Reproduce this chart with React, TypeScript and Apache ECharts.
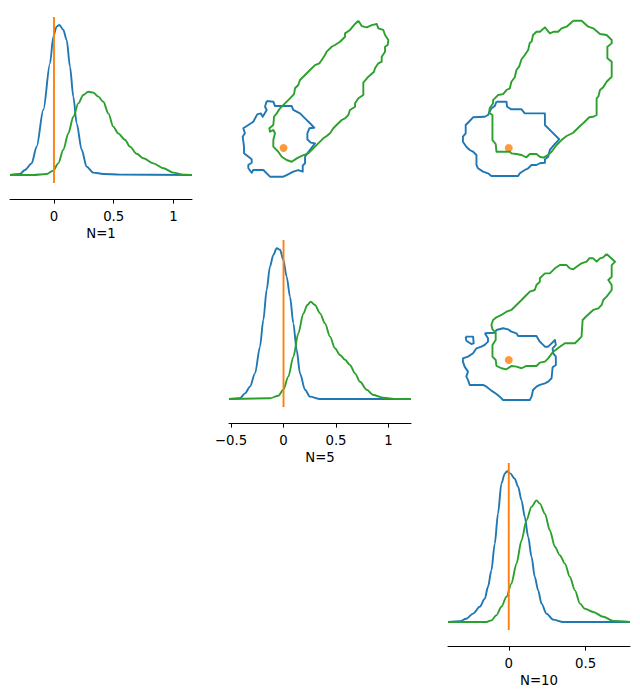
import React, { useEffect, useRef } from 'react';
import * as echarts from 'echarts';

const BLUE = '#1f77b4';
const ORANGE = '#ff7f0e';
const GREEN = '#2ca02c';
const FONT = 'DejaVu Sans';

// True parameter values (theta_0, theta_1, theta_2)
const trueTheta = [0, 0, 0];

// Axis limits per parameter
const limits0 = [-0.368, 1.155];
const limits1 = [-0.519, 1.214];
const limits2 = [-0.395, 0.788];

// Tick labels of the diagonal panels
const ticks0 = [0, 0.5, 1];
const ticks1 = [-0.5, 0, 0.5, 1];
const ticks2 = [0, 0.5];
const panelTitles = ['N=1', 'N=5', 'N=10'];

// 1D marginal densities [value, density]
const kdeBlue1 = [[-0.368, 0], [-0.285, 0.025], [-0.243, 0.125], [-0.187, 0.29], [-0.145, 0.71], [-0.089, 1.63], [-0.033, 2.79], [-0.006, 3.46], [0.022, 3.71], [0.045, 3.75], [0.078, 3.63], [0.106, 3.38], [0.134, 2.71], [0.162, 1.96], [0.19, 1.29], [0.232, 0.63], [0.273, 0.21], [0.329, 0.06], [0.413, 0.025], [0.552, 0.01], [1.155, 0]];
const kdeGreen1 = [[-0.368, 0], [-0.173, 0], [-0.061, 0.025], [-0.006, 0.11], [0.036, 0.29], [0.078, 0.63], [0.12, 1.04], [0.162, 1.46], [0.204, 1.79], [0.245, 2.0], [0.287, 2.08], [0.329, 2.06], [0.371, 1.96], [0.413, 1.83], [0.455, 1.54], [0.496, 1.21], [0.538, 1.04], [0.594, 0.88], [0.636, 0.71], [0.692, 0.53], [0.747, 0.42], [0.831, 0.29], [0.915, 0.17], [0.998, 0.06], [1.082, 0.01], [1.155, 0]];
const kdeBlue5 = [[-0.519, 0], [-0.414, 0.017], [-0.367, 0.14], [-0.319, 0.31], [-0.271, 0.64], [-0.224, 1.31], [-0.192, 1.98], [-0.16, 2.73], [-0.129, 3.31], [-0.097, 3.6], [-0.065, 3.77], [-0.033, 3.73], [-0.002, 3.48], [0.03, 3.06], [0.062, 2.56], [0.094, 1.89], [0.125, 1.23], [0.157, 0.64], [0.205, 0.23], [0.252, 0.06], [0.348, 0], [1.214, 0]];
const kdeGreen5 = [[-0.519, 0], [-0.129, 0.017], [-0.049, 0.083], [-0.002, 0.23], [0.046, 0.56], [0.094, 1.06], [0.141, 1.64], [0.189, 2.14], [0.227, 2.35], [0.259, 2.43], [0.3, 2.35], [0.348, 2.14], [0.395, 1.89], [0.443, 1.56], [0.49, 1.27], [0.538, 1.1], [0.586, 0.98], [0.633, 0.85], [0.681, 0.64], [0.729, 0.43], [0.792, 0.23], [0.855, 0.1], [0.95, 0.033], [1.078, 0], [1.214, 0]];
const kdeBlue10 = [[-0.395, 0], [-0.319, 0.017], [-0.276, 0.083], [-0.232, 0.21], [-0.189, 0.38], [-0.156, 0.58], [-0.135, 0.88], [-0.113, 1.29], [-0.091, 1.96], [-0.07, 2.71], [-0.048, 3.46], [-0.026, 3.71], [-0.011, 3.77], [0.011, 3.71], [0.039, 3.58], [0.061, 3.38], [0.083, 3.04], [0.104, 2.63], [0.126, 2.13], [0.148, 1.63], [0.169, 1.13], [0.191, 0.79], [0.213, 0.46], [0.245, 0.21], [0.289, 0.06], [0.354, 0], [0.788, 0]];
const kdeGreen10 = [[-0.395, 0], [-0.145, 0], [-0.113, 0.04], [-0.08, 0.17], [-0.048, 0.38], [-0.015, 0.63], [0.017, 0.96], [0.05, 1.46], [0.083, 2.04], [0.115, 2.54], [0.148, 2.88], [0.18, 3.04], [0.202, 2.96], [0.235, 2.71], [0.267, 2.29], [0.3, 1.88], [0.332, 1.67], [0.365, 1.46], [0.397, 1.13], [0.43, 0.79], [0.463, 0.46], [0.495, 0.33], [0.549, 0.25], [0.614, 0.13], [0.68, 0.025], [0.788, 0]];

// 2D credible-region contours [x, y]
const contourBlue01 = [[-0.16, 0.431], [-0.097, 0.425], [-0.081, 0.385], [0.078, 0.385], [0.093, 0.349], [0.157, 0.318], [0.205, 0.272], [0.252, 0.227], [0.293, 0.186], [0.246, 0.181], [0.227, 0.135], [0.227, 0.08], [0.259, 0.049], [0.3, 0.043], [0.227, -0.049], [0.205, -0.08], [0.205, -0.14], [0.183, -0.162], [0.183, -0.217], [0.141, -0.202], [0.093, -0.217], [0.03, -0.248], [-0.002, -0.263], [-0.129, -0.263], [-0.192, -0.202], [-0.288, -0.202], [-0.303, -0.227], [-0.335, -0.186], [-0.335, -0.156], [-0.303, -0.135], [-0.303, -0.104], [-0.376, -0.049], [-0.376, 0.012], [-0.389, 0.104], [-0.367, 0.135], [-0.383, 0.181], [-0.335, 0.211], [-0.288, 0.241], [-0.25, 0.309], [-0.217, 0.318], [-0.198, 0.287], [-0.16, 0.349], [-0.176, 0.379]];
const contourGreen01 = [[0.713, 1.168], [0.745, 1.119], [0.792, 1.107], [0.84, 1.128], [0.888, 1.138], [0.903, 1.098], [0.95, 1.083], [0.967, 1.037], [0.998, 0.991], [0.992, 0.945], [0.967, 0.929], [0.967, 0.884], [0.935, 0.838], [0.935, 0.792], [0.903, 0.777], [0.871, 0.731], [0.862, 0.7], [0.808, 0.654], [0.76, 0.599], [0.76, 0.486], [0.713, 0.456], [0.681, 0.41], [0.681, 0.379], [0.633, 0.349], [0.617, 0.303], [0.586, 0.272], [0.554, 0.257], [0.522, 0.227], [0.474, 0.181], [0.443, 0.135], [0.411, 0.11], [0.379, 0.089], [0.331, 0.043], [0.284, -0.003], [0.236, -0.049], [0.173, -0.073], [0.126, -0.095], [0.078, -0.126], [0.03, -0.11], [-0.017, -0.08], [-0.05, -0.034], [-0.097, 0.012], [-0.097, 0.073], [-0.081, 0.135], [-0.097, 0.165], [-0.129, 0.15], [-0.135, 0.181], [-0.097, 0.211], [-0.09, 0.287], [-0.065, 0.318], [-0.033, 0.364], [0.014, 0.41], [0.062, 0.456], [0.1, 0.495], [0.11, 0.548], [0.141, 0.578], [0.157, 0.624], [0.205, 0.67], [0.252, 0.716], [0.3, 0.761], [0.341, 0.777], [0.364, 0.807], [0.395, 0.853], [0.411, 0.884], [0.459, 0.929], [0.49, 0.945], [0.538, 0.975], [0.586, 1.021], [0.586, 1.052], [0.633, 1.083], [0.681, 1.138]];
const contourBlue02 = [[-0.08, 0.425], [-0.015, 0.425], [-0.011, 0.379], [0.017, 0.355], [0.083, 0.355], [0.104, 0.318], [0.235, 0.318], [0.235, 0.211], [0.278, 0.15], [0.328, 0.08], [0.3, 0.037], [0.267, -0.018], [0.256, -0.08], [0.235, -0.104], [0.235, -0.135], [0.202, -0.14], [0.18, -0.156], [0.148, -0.156], [0.126, -0.186], [0.104, -0.202], [0.072, -0.232], [0.061, -0.257], [-0.113, -0.257], [-0.135, -0.232], [-0.167, -0.217], [-0.2, -0.186], [-0.21, -0.156], [-0.21, -0.064], [-0.232, -0.034], [-0.254, -0.018], [-0.276, 0.012], [-0.298, 0.058], [-0.298, 0.104], [-0.28, 0.135], [-0.28, 0.211], [-0.259, 0.241], [-0.232, 0.282], [-0.156, 0.287], [-0.135, 0.303], [-0.113, 0.364], [-0.091, 0.385]];
const contourGreen02 = [[0.419, 1.168], [0.473, 1.168], [0.517, 1.113], [0.549, 1.098], [0.593, 1.046], [0.636, 1.037], [0.669, 0.991], [0.669, 0.96], [0.641, 0.929], [0.641, 0.823], [0.669, 0.792], [0.669, 0.654], [0.636, 0.608], [0.614, 0.557], [0.593, 0.532], [0.582, 0.471], [0.571, 0.456], [0.571, 0.303], [0.549, 0.287], [0.523, 0.282], [0.484, 0.227], [0.463, 0.202], [0.419, 0.14], [0.376, 0.11], [0.343, 0.073], [0.311, 0.028], [0.278, -0.034], [0.246, -0.073], [0.223, -0.089], [0.202, -0.08], [0.18, -0.055], [0.137, -0.055], [0.115, -0.085], [0.083, -0.064], [0.05, -0.055], [0.017, -0.049], [0.007, -0.034], [-0.08, -0.034], [-0.085, 0.037], [-0.106, 0.073], [-0.106, 0.303], [-0.128, 0.324], [-0.124, 0.364], [-0.102, 0.41], [-0.102, 0.44], [-0.07, 0.486], [-0.037, 0.495], [-0.015, 0.532], [0.007, 0.548], [0.017, 0.608], [0.039, 0.649], [0.05, 0.716], [0.067, 0.746], [0.083, 0.814], [0.104, 0.853], [0.126, 0.899], [0.137, 0.966], [0.148, 0.975], [0.158, 1.037], [0.18, 1.067], [0.202, 1.067], [0.235, 1.107], [0.267, 1.052], [0.293, 1.067], [0.321, 1.067], [0.343, 1.098], [0.376, 1.113]];
const contourBlue12 = [[-0.156, 0.277], [-0.091, 0.283], [-0.08, 0.311], [-0.037, 0.329], [-0.005, 0.318], [0.017, 0.294], [0.05, 0.277], [0.061, 0.249], [0.18, 0.249], [0.202, 0.19], [0.235, 0.138], [0.256, 0.138], [0.278, 0.173], [0.3, 0.207], [0.306, 0.156], [0.285, 0.121], [0.289, 0.069], [0.306, 0.035], [0.306, -0.052], [0.285, -0.076], [0.278, -0.19], [0.256, -0.225], [0.235, -0.242], [0.202, -0.259], [0.18, -0.277], [0.158, -0.311], [0.148, -0.381], [0.137, -0.415], [-0.037, -0.415], [-0.059, -0.381], [-0.08, -0.353], [-0.113, -0.318], [-0.145, -0.277], [-0.167, -0.259], [-0.254, -0.259], [-0.265, -0.207], [-0.276, -0.173], [-0.265, -0.121], [-0.287, -0.069], [-0.298, -0.017], [-0.298, 0.017], [-0.265, 0.035], [-0.232, 0.069], [-0.21, 0.121], [-0.178, 0.138], [-0.156, 0.156], [-0.135, 0.19], [-0.135, 0.225]];
const islandBlue12 = [[-0.28, 0.242], [-0.232, 0.242], [-0.228, 0.173], [-0.243, 0.166], [-0.276, 0.2]];
const contourGreen12 = [[0.636, 1.1], [0.691, 1.02], [0.669, 0.985], [0.669, 0.864], [0.647, 0.83], [0.669, 0.778], [0.669, 0.726], [0.636, 0.657], [0.614, 0.622], [0.604, 0.571], [0.582, 0.536], [0.549, 0.519], [0.506, 0.456], [0.48, 0.415], [0.473, 0.242], [0.452, 0.207], [0.43, 0.173], [0.365, 0.173], [0.332, 0.138], [0.289, 0.086], [0.256, 0.017], [0.235, -0.017], [0.202, -0.028], [0.18, -0.062], [0.115, -0.062], [0.083, -0.086], [0.05, -0.069], [0.017, -0.062], [-0.015, -0.097], [-0.048, -0.086], [-0.08, -0.062], [-0.085, 0], [-0.106, 0.035], [-0.106, 0.156], [-0.085, 0.207], [-0.085, 0.283], [-0.106, 0.318], [-0.113, 0.363], [-0.102, 0.415], [-0.08, 0.443], [-0.048, 0.467], [-0.015, 0.501], [0.017, 0.519], [0.05, 0.571], [0.083, 0.622], [0.115, 0.674], [0.137, 0.709], [0.169, 0.726], [0.18, 0.778], [0.202, 0.812], [0.202, 0.848], [0.235, 0.899], [0.267, 0.899], [0.3, 0.951], [0.332, 0.985], [0.376, 0.985], [0.397, 0.951], [0.419, 0.941], [0.441, 0.968], [0.473, 1.003], [0.506, 1.02], [0.523, 1.055], [0.549, 1.055], [0.571, 1.02], [0.593, 1.055], [0.614, 1.065]];

const LW = 1.9;
const closed = (pts: number[][]) => [...pts, pts[0]];
const fmtTick = (v: number) => (v < 0 ? '\u2212' + String(Math.abs(v)) : String(v));

export default function App() {
  const ref = useRef<HTMLDivElement>(null);

  useEffect(() => {
    const chart = echarts.init(ref.current!, null, { renderer: 'svg' });

    // panel boxes: three diagonal density panels and three contour panels
    const grids = [
      { left: 10, top: 17, width: 182, height: 166 },   // 0: theta0 marginal
      { left: 229, top: 17, width: 182, height: 166 },  // 1: theta1 vs theta0
      { left: 448, top: 17, width: 182, height: 166 },  // 2: theta2 vs theta0
      { left: 229, top: 240, width: 182, height: 167 }, // 3: theta1 marginal
      { left: 448, top: 240, width: 182, height: 167 }, // 4: theta2 vs theta1
      { left: 448, top: 463, width: 182, height: 167 }, // 5: theta2 marginal
    ].map((g) => ({ ...g, outerBoundsMode: 'none', containLabel: false }));

    const densityY = [-0.2, 3.95];
    const densityY2 = [-0.2, 3.975];

    const diagAxis = (lim: number[], ticks: number[], title: string) => ({
      type: 'value',
      min: lim[0],
      max: lim[1],
      position: 'bottom',
      offset: 16,
      name: title,
      nameLocation: 'middle',
      nameGap: 28,
      nameTextStyle: { fontFamily: FONT, fontSize: 13.3, color: '#000' },
      axisLine: { show: true, onZero: false, lineStyle: { color: '#000', width: 1 } },
      axisTick: { show: true, length: 4.6, customValues: ticks, lineStyle: { color: '#000', width: 1 } },
      axisLabel: {
        show: true,
        customValues: ticks,
        margin: 10.5,
        formatter: fmtTick,
        fontFamily: FONT,
        fontSize: 13.3,
        color: '#000',
      },
      splitLine: { show: false },
    });
    const hiddenAxis = (lim: number[]) => ({
      type: 'value',
      min: lim[0],
      max: lim[1],
      show: false,
      splitLine: { show: false },
    });

    const xAxis = [
      diagAxis(limits0, ticks0, panelTitles[0]),
      hiddenAxis(limits1),
      hiddenAxis(limits2),
      diagAxis(limits1, ticks1, panelTitles[1]),
      hiddenAxis(limits2),
      diagAxis(limits2, ticks2, panelTitles[2]),
    ].map((a, i) => ({ ...a, gridIndex: i }));

    const yAxis = [
      hiddenAxis(densityY),
      hiddenAxis([-0.321, 1.202]),
      hiddenAxis([-0.321, 1.202]),
      hiddenAxis(densityY2),
      hiddenAxis([-0.488, 1.245]),
      hiddenAxis(densityY2),
    ].map((a, i) => ({ ...a, gridIndex: i }));

    const line = (idx: number, data: number[][], color: string, smooth = false) => ({
      type: 'line',
      xAxisIndex: idx,
      yAxisIndex: idx,
      data,
      smooth: smooth ? 0.3 : false,
      smoothMonotone: smooth ? 'x' : undefined,
      showSymbol: false,
      silent: true,
      lineStyle: { color, width: LW, join: 'round' },
      itemStyle: { color },
    });

    const diag = (idx: number, blue: number[][], green: number[][], truth: number, yr: number[]) => [
      line(idx, blue, BLUE, true),
      line(idx, green, GREEN, true),
      line(idx, [[truth, yr[0]], [truth, yr[1]]], ORANGE),
    ];

    const dot = (idx: number, x: number, y: number) => ({
      type: 'scatter',
      xAxisIndex: idx,
      yAxisIndex: idx,
      data: [[x, y]],
      symbolSize: 8,
      silent: true,
      itemStyle: { color: ORANGE },
    });

    const series = [
      ...diag(0, kdeBlue1, kdeGreen1, trueTheta[0], densityY),
      line(1, closed(contourBlue01), BLUE),
      line(1, closed(contourGreen01), GREEN),
      dot(1, trueTheta[1], trueTheta[0]),
      line(2, closed(contourBlue02), BLUE),
      line(2, closed(contourGreen02), GREEN),
      dot(2, trueTheta[2], trueTheta[0]),
      ...diag(3, kdeBlue5, kdeGreen5, trueTheta[1], densityY2),
      line(4, closed(contourBlue12), BLUE),
      line(4, closed(islandBlue12), BLUE),
      line(4, closed(contourGreen12), GREEN),
      dot(4, trueTheta[2], trueTheta[1]),
      ...diag(5, kdeBlue10, kdeGreen10, trueTheta[2], densityY2),
    ];

    chart.setOption({
      animation: false,
      backgroundColor: '#fff',
      grid: grids,
      xAxis,
      yAxis,
      series,
    });

    return () => chart.dispose();
  }, []);

  return (
    <div
      ref={ref}
      style={{ position: 'absolute', left: 0, top: 0, width: 640, height: 698 }}
    />
  );
}
